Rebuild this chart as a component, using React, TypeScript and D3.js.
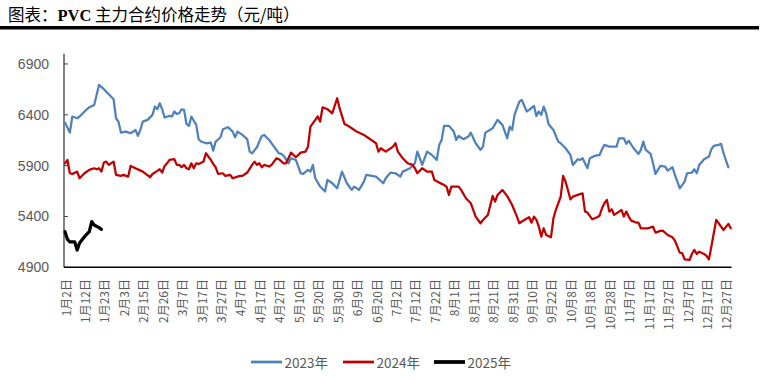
import React from 'react';
import * as d3 from 'd3';

const W = 778;
const H = 380;

const tickLabels = [
  '1月2日', '1月12日', '1月23日', '2月3日', '2月15日', '2月26日', '3月7日', '3月17日', '3月27日',
  '4月7日', '4月17日', '4月27日', '5月10日', '5月20日', '5月30日', '6月9日', '6月20日', '7月2日',
  '7月12日', '7月22日', '8月1日', '8月11日', '8月21日', '8月31日', '9月10日', '9月22日', '10月8日',
  '10月18日', '10月28日', '11月7日', '11月17日', '11月27日', '12月7日', '12月17日', '12月27日',
];
const labelStep = 8;
const lastDay = 274;
const yTicks = [4900, 5400, 5900, 6400, 6900];

const days2023 = [0, 2, 3, 5, 6, 9, 10, 12, 14, 16, 20, 21, 22, 23, 25, 27, 29, 30, 31, 32, 34, 36, 37, 38, 39, 40, 41, 43, 44, 45, 46, 47, 48, 49, 50, 51, 52, 54, 55, 56, 58, 60, 61, 62, 64, 65, 67, 68, 69, 70, 71, 73, 75, 76, 77, 79, 80, 81, 82, 84, 86, 88, 89, 90, 92, 93, 95, 97, 98, 100, 101, 102, 103, 105, 107, 108, 110, 112, 114, 116, 118, 119, 121, 123, 124, 128, 131, 132, 134, 136, 138, 139, 142, 144, 145, 147, 149, 151, 153, 154, 155, 156, 158, 160, 161, 162, 164, 166, 167, 169, 171, 172, 173, 176, 178, 180, 182, 183, 184, 185, 186, 187, 188, 190, 191, 193, 194, 195, 196, 197, 198, 199, 201, 203, 204, 206, 208, 209, 211, 212, 213, 215, 216, 218, 220, 221, 222, 224, 227, 228, 230, 231, 232, 234, 236, 237, 238, 239, 241, 242, 243, 245, 247, 248, 250, 251, 253, 255, 256, 258, 259, 260, 261, 263, 265, 266, 267, 269, 270, 271, 273];
const price2023 = [6323, 6225, 6383, 6366, 6383, 6455, 6474, 6497, 6694, 6652, 6553, 6366, 6333, 6225, 6235, 6219, 6251, 6192, 6251, 6333, 6350, 6399, 6481, 6455, 6514, 6455, 6373, 6389, 6383, 6432, 6409, 6415, 6455, 6448, 6310, 6291, 6383, 6301, 6160, 6137, 6120, 6127, 6048, 6137, 6179, 6258, 6278, 6258, 6235, 6179, 6235, 6202, 6160, 6038, 6022, 6081, 6140, 6192, 6202, 6153, 6087, 6022, 6015, 5996, 5924, 5973, 5956, 5825, 5818, 5858, 5841, 5907, 5776, 5694, 5645, 5759, 5727, 5677, 5841, 5727, 5661, 5694, 5661, 5743, 5809, 5792, 5727, 5776, 5832, 5825, 5792, 5841, 5874, 5924, 6038, 5907, 6038, 6005, 5956, 6104, 6153, 6291, 6291, 6235, 6153, 6192, 6160, 6186, 6225, 6120, 6055, 6087, 6225, 6268, 6350, 6301, 6169, 6284, 6251, 6399, 6465, 6530, 6547, 6432, 6448, 6488, 6389, 6432, 6399, 6481, 6415, 6310, 6251, 6136, 6120, 6071, 6005, 5907, 5963, 5956, 5973, 5874, 5973, 5996, 6005, 6061, 6104, 6087, 6087, 6169, 6169, 6114, 6146, 6071, 6015, 6055, 6136, 6055, 6015, 5924, 5818, 5897, 5891, 5851, 5884, 5809, 5677, 5743, 5825, 5832, 5864, 5825, 5907, 5963, 5989, 6061, 6094, 6104, 6114, 6022, 5884];

const days2024 = [0, 1, 2, 3, 5, 6, 8, 10, 12, 13, 14, 15, 16, 17, 18, 20, 21, 23, 24, 26, 27, 29, 32, 35, 36, 38, 39, 40, 41, 42, 43, 45, 46, 47, 48, 49, 50, 51, 52, 53, 54, 55, 57, 58, 60, 61, 62, 63, 65, 66, 68, 69, 71, 72, 73, 75, 77, 78, 79, 80, 81, 82, 84, 85, 87, 88, 90, 91, 93, 95, 97, 99, 100, 101, 103, 104, 105, 106, 108, 110, 112, 113, 115, 117, 118, 120, 123, 125, 126, 128, 129, 130, 132, 135, 136, 137, 139, 141, 143, 144, 145, 147, 149, 151, 152, 154, 156, 157, 158, 159, 162, 163, 165, 167, 168, 169, 171, 172, 174, 176, 177, 178, 180, 182, 184, 186, 187, 189, 191, 192, 193, 194, 195, 196, 197, 198, 200, 201, 202, 204, 205, 206, 208, 209, 211, 213, 214, 215, 217, 219, 220, 221, 222, 223, 224, 225, 226, 228, 229, 230, 231, 232, 233, 235, 236, 237, 240, 242, 243, 245, 246, 248, 250, 251, 252, 253, 254, 255, 257, 258, 259, 260, 261, 263, 264, 265, 266, 267, 268, 271, 273, 274];
const price2024 = [5923, 5956, 5825, 5818, 5841, 5776, 5825, 5858, 5874, 5864, 5874, 5841, 5930, 5940, 5907, 5940, 5809, 5799, 5809, 5792, 5897, 5874, 5841, 5786, 5818, 5848, 5864, 5831, 5897, 5923, 5956, 5963, 5907, 5907, 5884, 5907, 5874, 5864, 5923, 5874, 5923, 5917, 5940, 6022, 5956, 5917, 5884, 5818, 5825, 5799, 5809, 5776, 5792, 5799, 5799, 5832, 5907, 5940, 5907, 5923, 5884, 5907, 5891, 5907, 5972, 5963, 5923, 5923, 6028, 5982, 6028, 6038, 6087, 6284, 6350, 6383, 6333, 6474, 6455, 6415, 6563, 6465, 6310, 6284, 6268, 6235, 6202, 6169, 6153, 6120, 6038, 6071, 6038, 6087, 6120, 6038, 5972, 5923, 5907, 5874, 5825, 5874, 5841, 5841, 5759, 5733, 5710, 5694, 5612, 5694, 5694, 5661, 5579, 5530, 5464, 5398, 5333, 5366, 5415, 5602, 5546, 5612, 5661, 5600, 5513, 5399, 5333, 5366, 5392, 5339, 5399, 5366, 5300, 5202, 5284, 5218, 5195, 5382, 5464, 5595, 5799, 5743, 5569, 5595, 5612, 5628, 5448, 5438, 5372, 5392, 5408, 5481, 5530, 5563, 5448, 5471, 5415, 5448, 5464, 5399, 5448, 5399, 5359, 5340, 5340, 5284, 5284, 5300, 5241, 5258, 5261, 5218, 5195, 5162, 5103, 5044, 5038, 4979, 4972, 5031, 5071, 5031, 5054, 5031, 5012, 4979, 5103, 5235, 5366, 5267, 5327, 5284];

const days2025 = [0, 1, 2, 4, 5, 6, 8, 10, 11, 12, 14, 15];
const price2025 = [5250, 5175, 5150, 5150, 5070, 5139, 5201, 5250, 5349, 5316, 5290, 5274];

const seriesNames = ['2023年', '2024年', '2025年'];
const seriesColors = ['#4F81BD', '#C00000', '#000000'];
const seriesWidths = [2.25, 2.25, 3.25];

export default function App() {
  const x = d3.scaleLinear().domain([0, lastDay]).range([65, 730.8]);
  const y = d3.scaleLinear().domain([4900, 7000]).range([267.3, 53.8]);

  const mk = (days: number[], vals: number[]) =>
    d3.line<number>().x((_, i) => x(days[i])).y((v) => y(v))(vals) || '';

  const paths = [mk(days2023, price2023), mk(days2024, price2024), mk(days2025, price2025)];
  const textColor = '#595959';
  const legendX = [251, 343, 434];

  return (
    <svg width={W} height={H} style={{ position: 'absolute', left: 0, top: 0, background: '#fff' }}>
      <rect x={0} y={0} width={W} height={H} fill="#fff" />
      <text x={8} y={21} fontSize={16.5} fill="#000" fontFamily="'Noto Sans CJK SC', sans-serif">
        <tspan>图表：</tspan>
        <tspan fontFamily="'Liberation Serif', serif" fontWeight="bold">PVC</tspan>
        <tspan> 主力合约价格走势（元/吨）</tspan>
      </text>
      <rect x={0} y={26} width={759} height={3.5} fill="#000" />

      {/* y axis */}
      <line x1={64} x2={64} y1={y(7000)} y2={y(4900)} stroke="#404040" strokeWidth={1.3} />
      {yTicks.map((t) => (
        <g key={t}>
          <line x1={64} x2={68} y1={y(t)} y2={y(t)} stroke="#404040" strokeWidth={1} />
          <text x={49} y={y(t)} textAnchor="end" dominantBaseline="central" fontSize={14}
            fill={textColor} fontFamily="'Liberation Sans', Arial, sans-serif">{t}</text>
        </g>
      ))}

      {/* lines */}
      {paths.map((d, i) => (
        <path key={i} d={d} fill="none" stroke={seriesColors[i]} strokeWidth={seriesWidths[i]}
          strokeLinejoin="round" strokeLinecap="round" />
      ))}

      {/* x axis */}
      <line x1={64} x2={731.5} y1={y(4900)} y2={y(4900)} stroke="#000" strokeWidth={1.5} />
      {tickLabels.map((lab, i) => (
        <text key={lab} transform={`translate(${x(i * labelStep)},279) rotate(-90)`} textAnchor="end"
          dominantBaseline="central" fontSize={12} fill={textColor}
          fontFamily="'Noto Sans CJK SC', sans-serif">{lab}</text>
      ))}

      {/* legend */}
      {seriesNames.map((n, i) => (
        <g key={n}>
          <line x1={legendX[i]} x2={legendX[i] + 31} y1={362} y2={362} stroke={seriesColors[i]}
            strokeWidth={seriesWidths[i] + 0.5} />
          <text x={legendX[i] + 33.5} y={362} dominantBaseline="central" fontSize={13.5} fill={textColor}
            fontFamily="'Noto Sans CJK SC', sans-serif">{n}</text>
        </g>
      ))}
    </svg>
  );
}
